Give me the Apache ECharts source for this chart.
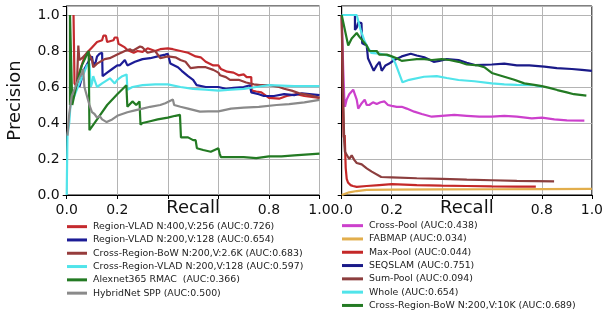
<!DOCTYPE html>
<html>
<head>
<meta charset="utf-8">
<script src="https://cdn.jsdelivr.net/npm/echarts@6/dist/echarts.min.js"></script>
<style>
html,body{margin:0;padding:0;background:#fff;}
#c{width:606px;height:313px;}
</style>
</head>
<body>
<div id="c"></div>
<script>
// ---------- data (recall, precision) ----------
const xTicks = [0, 0.2, 0.4, 0.6, 0.8, 1.0];
const hiddenXTickLabels = [0.4, 0.6];

const leftNames = [
  'Region-VLAD N:400,V:256 (AUC:0.726)',
  'Region-VLAD N:200,V:128 (AUC:0.654)',
  'Cross-Region-BoW N:200,V:2.6K (AUC:0.683)',
  'Cross-Region-VLAD N:200,V:128 (AUC:0.597)',
  'Alexnet365 RMAC  (AUC:0.366)',
  'HybridNet SPP (AUC:0.500)'
];
const rightNames = [
  'Cross-Pool (AUC:0.438)',
  'FABMAP (AUC:0.034)',
  'Max-Pool (AUC:0.044)',
  'SEQSLAM (AUC:0.751)',
  'Sum-Pool (AUC:0.094)',
  'Whole (AUC:0.654)',
  'Cross-Region-BoW N:200,V:10K (AUC:0.689)'
];

const regionVlad400 = [[0.027,1.0],[0.03,1.0],[0.031,0.62],[0.04,0.6],[0.05,0.68],[0.066,0.75],[0.08,0.79],[0.1,0.82],[0.12,0.85],[0.14,0.86],[0.145,0.885],[0.155,0.885],[0.16,0.85],[0.185,0.86],[0.19,0.875],[0.2,0.875],[0.205,0.84],[0.23,0.82],[0.24,0.805],[0.265,0.79],[0.28,0.8],[0.3,0.795],[0.32,0.815],[0.35,0.8],[0.37,0.81],[0.4,0.815],[0.42,0.81],[0.45,0.8],[0.48,0.79],[0.51,0.77],[0.53,0.765],[0.55,0.74],[0.58,0.72],[0.6,0.72],[0.61,0.7],[0.635,0.685],[0.66,0.68],[0.68,0.665],[0.7,0.67],[0.712,0.655],[0.73,0.655],[0.732,0.58],[0.75,0.575],[0.77,0.57],[0.8,0.54],[0.84,0.535],[0.87,0.55],[0.91,0.56],[0.94,0.55],[1.0,0.54]];
const regionVlad200 = [[0.05,0.6],[0.07,0.7],[0.09,0.75],[0.1,0.77],[0.105,0.72],[0.115,0.74],[0.12,0.77],[0.13,0.785],[0.14,0.79],[0.142,0.66],[0.16,0.68],[0.18,0.7],[0.2,0.72],[0.21,0.72],[0.23,0.75],[0.237,0.76],[0.24,0.72],[0.27,0.74],[0.3,0.755],[0.33,0.76],[0.36,0.77],[0.39,0.78],[0.4,0.785],[0.41,0.73],[0.44,0.71],[0.455,0.69],[0.48,0.66],[0.5,0.64],[0.514,0.61],[0.55,0.6],[0.6,0.6],[0.63,0.59],[0.66,0.595],[0.7,0.6],[0.725,0.61],[0.73,0.57],[0.76,0.56],[0.78,0.55],[0.82,0.55],[0.86,0.56],[0.9,0.555],[0.93,0.565],[1.0,0.555]];
const crossBow26k = [[0.04,0.6],[0.046,0.83],[0.05,0.75],[0.06,0.76],[0.085,0.795],[0.09,0.79],[0.1,0.75],[0.105,0.71],[0.12,0.73],[0.15,0.755],[0.17,0.76],[0.2,0.78],[0.23,0.8],[0.25,0.81],[0.26,0.8],[0.29,0.825],[0.3,0.82],[0.32,0.79],[0.35,0.8],[0.37,0.76],[0.4,0.77],[0.43,0.765],[0.45,0.75],[0.47,0.74],[0.49,0.705],[0.52,0.71],[0.55,0.71],[0.58,0.695],[0.6,0.68],[0.607,0.665],[0.63,0.655],[0.646,0.64],[0.68,0.64],[0.71,0.625],[0.74,0.615],[0.765,0.61],[0.8,0.61],[0.84,0.6],[0.86,0.59],[0.89,0.58],[0.92,0.565],[0.96,0.555],[1.0,0.54]];
const crossVlad128 = [[0.0,0.0],[0.003,0.33],[0.01,0.4],[0.015,0.5],[0.03,0.55],[0.05,0.62],[0.066,0.67],[0.08,0.72],[0.09,0.73],[0.095,0.6],[0.1,0.62],[0.105,0.66],[0.11,0.65],[0.12,0.6],[0.14,0.62],[0.171,0.648],[0.19,0.62],[0.2,0.64],[0.22,0.66],[0.237,0.67],[0.24,0.585],[0.26,0.6],[0.3,0.61],[0.35,0.615],[0.4,0.615],[0.45,0.6],[0.5,0.59],[0.55,0.585],[0.6,0.58],[0.65,0.585],[0.7,0.59],[0.75,0.6],[0.8,0.61],[0.9,0.605],[1.0,0.605]];
const alexnetRmac = [[0.013,0.5],[0.013,1.0],[0.02,1.0],[0.022,0.5],[0.04,0.62],[0.06,0.72],[0.08,0.78],[0.087,0.8],[0.09,0.36],[0.1,0.38],[0.13,0.44],[0.16,0.5],[0.2,0.56],[0.236,0.61],[0.24,0.49],[0.26,0.52],[0.275,0.5],[0.288,0.52],[0.292,0.39],[0.3,0.4],[0.33,0.41],[0.36,0.42],[0.4,0.43],[0.43,0.44],[0.448,0.445],[0.452,0.32],[0.48,0.32],[0.5,0.305],[0.51,0.305],[0.515,0.26],[0.54,0.25],[0.57,0.24],[0.6,0.26],[0.605,0.23],[0.61,0.21],[0.65,0.21],[0.7,0.21],[0.75,0.205],[0.8,0.215],[0.85,0.215],[0.9,0.22],[1.0,0.23]];
const hybridNetSpp = [[0.003,0.33],[0.01,0.45],[0.02,0.55],[0.04,0.62],[0.06,0.68],[0.065,0.7],[0.07,0.6],[0.08,0.55],[0.09,0.5],[0.1,0.46],[0.11,0.45],[0.12,0.43],[0.13,0.44],[0.14,0.42],[0.158,0.405],[0.18,0.42],[0.2,0.44],[0.22,0.45],[0.24,0.46],[0.27,0.47],[0.3,0.48],[0.33,0.49],[0.37,0.5],[0.39,0.51],[0.42,0.53],[0.425,0.5],[0.45,0.49],[0.48,0.48],[0.527,0.463],[0.56,0.465],[0.6,0.465],[0.65,0.48],[0.7,0.485],[0.76,0.49],[0.83,0.5],[0.88,0.505],[0.94,0.515],[1.0,0.528]];

const crossPool = [[0.0,1.0],[0.003,0.85],[0.006,0.7],[0.01,0.55],[0.013,0.49],[0.02,0.53],[0.03,0.56],[0.046,0.585],[0.06,0.53],[0.066,0.48],[0.08,0.51],[0.092,0.53],[0.1,0.5],[0.11,0.5],[0.125,0.515],[0.14,0.505],[0.155,0.515],[0.171,0.52],[0.185,0.5],[0.2,0.495],[0.22,0.49],[0.24,0.49],[0.26,0.48],[0.29,0.463],[0.32,0.45],[0.36,0.435],[0.4,0.44],[0.45,0.445],[0.5,0.44],[0.55,0.435],[0.6,0.435],[0.65,0.44],[0.7,0.435],[0.76,0.426],[0.8,0.43],[0.85,0.42],[0.9,0.415],[0.97,0.413]];
const fabmap = [[0.0,0.0],[0.03,0.015],[0.06,0.022],[0.1,0.028],[0.2,0.03],[0.4,0.031],[0.6,0.032],[0.8,0.033],[1.0,0.034]];
const maxPool = [[0.0,1.0],[0.005,0.5],[0.008,0.32],[0.012,0.333],[0.016,0.15],[0.02,0.09],[0.025,0.07],[0.03,0.075],[0.035,0.055],[0.045,0.05],[0.06,0.045],[0.1,0.05],[0.15,0.055],[0.2,0.06],[0.25,0.058],[0.3,0.055],[0.4,0.052],[0.5,0.05],[0.6,0.048],[0.7,0.047],[0.776,0.046]];
const seqslam = [[0.0,1.0],[0.053,1.0],[0.053,0.917],[0.06,0.93],[0.066,0.96],[0.079,0.955],[0.082,0.843],[0.1,0.83],[0.105,0.76],[0.118,0.72],[0.128,0.69],[0.14,0.72],[0.151,0.74],[0.16,0.69],[0.175,0.72],[0.19,0.73],[0.21,0.75],[0.24,0.77],[0.276,0.785],[0.3,0.775],[0.33,0.765],[0.368,0.74],[0.39,0.745],[0.42,0.755],[0.467,0.75],[0.5,0.735],[0.533,0.722],[0.6,0.725],[0.65,0.73],[0.7,0.72],[0.75,0.72],[0.81,0.713],[0.86,0.705],[0.92,0.7],[0.96,0.695],[1.0,0.69]];
const sumPool = [[0.0,1.0],[0.005,0.6],[0.01,0.3],[0.013,0.24],[0.02,0.23],[0.03,0.2],[0.04,0.22],[0.05,0.195],[0.06,0.178],[0.08,0.17],[0.1,0.148],[0.12,0.13],[0.158,0.1],[0.2,0.098],[0.3,0.093],[0.4,0.09],[0.5,0.085],[0.6,0.082],[0.7,0.078],[0.849,0.076]];
const whole = [[0.0,1.0],[0.06,1.0],[0.075,0.92],[0.09,0.86],[0.1,0.83],[0.118,0.79],[0.15,0.785],[0.2,0.77],[0.215,0.73],[0.243,0.626],[0.27,0.64],[0.329,0.657],[0.38,0.66],[0.42,0.65],[0.467,0.639],[0.53,0.632],[0.6,0.62],[0.65,0.615],[0.7,0.612],[0.77,0.61],[0.8,0.6]];
const crossBow10k = [[0.0,1.0],[0.026,0.83],[0.04,0.87],[0.06,0.9],[0.07,0.88],[0.085,0.855],[0.1,0.83],[0.11,0.8],[0.14,0.8],[0.15,0.78],[0.18,0.78],[0.2,0.77],[0.22,0.76],[0.24,0.745],[0.27,0.75],[0.3,0.755],[0.33,0.755],[0.36,0.75],[0.4,0.755],[0.43,0.75],[0.467,0.74],[0.5,0.725],[0.546,0.72],[0.57,0.71],[0.6,0.678],[0.65,0.657],[0.69,0.64],[0.73,0.62],[0.77,0.612],[0.8,0.605],[0.83,0.595],[0.862,0.583],[0.9,0.57],[0.928,0.56],[0.978,0.552]];

const leftData = [regionVlad400, regionVlad200, crossBow26k, crossVlad128, alexnetRmac, hybridNetSpp];
const rightData = [crossPool, fabmap, maxPool, seqslam, sumPool, whole, crossBow10k];
const leftColors = ['#c42a2e', '#1c1c96', '#963c3c', '#50e4ea', '#237a23', '#8a8a8a'];
const rightColors = ['#cc40cc', '#e2ae4c', '#c42828', '#1a1a88', '#8c3e3e', '#50e4ea', '#237a23'];

// ---------- chart ----------
const FONT = 'DejaVu Sans';
const chart = echarts.init(document.getElementById('c'), null, {renderer: 'canvas'});

function xAxisCfg(gridIndex) {
  return {
    type: 'value', gridIndex, min: 0, max: 1, interval: 0.2,
    name: 'Recall', nameLocation: 'middle', nameGap: 4, nameMoveOverlap: false,
    nameTextStyle: {fontSize: 18, fontFamily: FONT, color: '#111'},
    axisLine: {show: true, lineStyle: {color: '#000', width: 1}},
    axisTick: {show: true, length: 4, lineStyle: {color: '#000'}},
    axisLabel: {
      show: true, margin: 8, fontSize: 14, fontFamily: FONT, color: '#111',
      showMinLabel: true, showMaxLabel: true, hideOverlap: false,
      formatter: v => hiddenXTickLabels.some(h => Math.abs(h - v) < 1e-6) ? '' : v.toFixed(1)
    },
    splitLine: {show: true, lineStyle: {color: '#b4b4b4', width: 1}}
  };
}
function yAxisCfg(gridIndex, showLabels) {
  return {
    type: 'value', gridIndex, min: 0, max: 1.05, interval: 0.2,
    name: showLabels ? 'Precision' : '', nameLocation: 'middle', nameGap: 42, nameMoveOverlap: false,
    nameTextStyle: {fontSize: 18, fontFamily: FONT, color: '#111'},
    axisLine: {show: true, lineStyle: {color: '#000', width: 1}},
    axisTick: {show: true, length: 4, lineStyle: {color: '#000'}},
    axisLabel: {
      show: showLabels, margin: 7, fontSize: 14, fontFamily: FONT, color: '#111',
      formatter: v => Math.abs(v * 5 - Math.round(v * 5)) > 1e-6 ? '' : v.toFixed(1)
    },
    splitLine: {show: true, lineStyle: {color: '#b4b4b4', width: 1}}
  };
}

const series = [];
leftData.forEach((d, i) => series.push({
  name: leftNames[i], type: 'line', xAxisIndex: 0, yAxisIndex: 0, data: d,
  showSymbol: false, symbol: 'none', color: leftColors[i],
  lineStyle: {width: 2.2, color: leftColors[i]}, z: 2 + i
}));
rightData.forEach((d, i) => series.push({
  name: rightNames[i], type: 'line', xAxisIndex: 1, yAxisIndex: 1, data: d,
  showSymbol: false, symbol: 'none', color: rightColors[i],
  lineStyle: {width: 2.2, color: rightColors[i]}, z: 2 + i
}));

function legendCfg(left, top, names, w) {
  return {
    left, top, orient: 'vertical', padding: 0, itemGap: 0,
    itemWidth: w, itemHeight: 3, icon: 'rect', selectedMode: false,
    textStyle: {fontSize: 9.4, lineHeight: 13.3, color: '#222', fontFamily: FONT, padding: [0, 0, 0, 1]},
    data: names
  };
}

chart.setOption({
  animation: false,
  backgroundColor: '#fff',
  grid: [
    {left: 66.7, top: 6, width: 252.8, height: 189, show: true, borderColor: '#000', borderWidth: 1, containLabel: false},
    {left: 341.7, top: 6, width: 253.3, height: 189, show: true, borderColor: '#000', borderWidth: 1, containLabel: false}
  ],
  xAxis: [xAxisCfg(0), xAxisCfg(1)],
  yAxis: [yAxisCfg(0, true), yAxisCfg(1, false)],
  legend: [
    legendCfg(67, 220, leftNames, 20),
    legendCfg(342, 219, rightNames, 21)
  ],
  series
});
</script>
</body>
</html>
